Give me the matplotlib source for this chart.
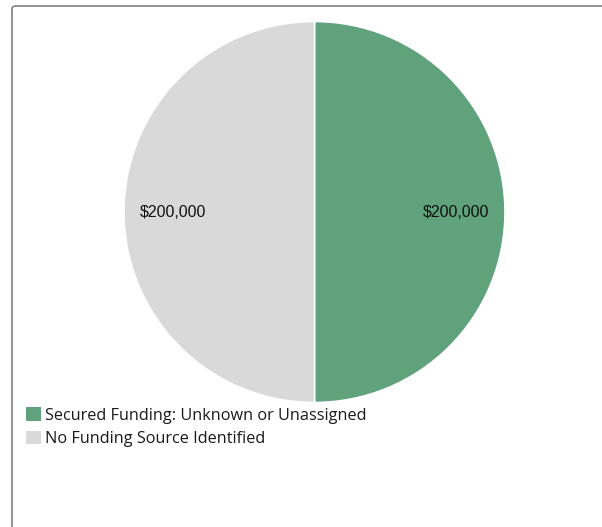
import numpy as np
import matplotlib.pyplot as plt
from matplotlib.patches import FancyBboxPatch

# funding breakdown
labels = ["Secured Funding: Unknown or Unassigned", "No Funding Source Identified"]
amounts = [200000, 200000]
colors = ["#5fa27b", "#d9d9d9"]

W, H = 602, 527
fig = plt.figure(figsize=(W / 100, H / 100), dpi=100)

# outer card border (only top and left edges show inside the image)
border = FancyBboxPatch((12 / W, 1 - 620 / H), 700 / W, 614 / H,
                        boxstyle="round,pad=0,rounding_size=0.006",
                        transform=fig.transFigure, facecolor="none",
                        edgecolor="#8a8a8a", linewidth=1.3)
fig.patches.append(border)

cx, cy, r = 314.5, 212, 190.5
ax = fig.add_axes([(cx - r) / W, 1 - (cy + r) / H, 2 * r / W, 2 * r / H])
wedges, _ = ax.pie(amounts, colors=colors, startangle=90, counterclock=False,
                   wedgeprops=dict(edgecolor="white", linewidth=1.2))
ax.set_xlim(-1, 1)
ax.set_ylim(-1, 1)
ax.set_aspect("equal")
ax.axis("off")

for w, v in zip(wedges, amounts):
    ang = np.deg2rad((w.theta1 + w.theta2) / 2)
    ax.text(0.745 * np.cos(ang), 0.745 * np.sin(ang) - 0.005, f"${v:,.0f}",
            ha="center", va="center", fontsize=11.5, family="Liberation Sans",
            color="#111111")

leg = fig.legend(wedges, labels, loc="upper left",
                 bbox_to_anchor=(26 / W, 1 - 407.5 / H), frameon=False,
                 prop={"family": "Open Sans", "size": 11.7},
                 handlelength=0.92, handleheight=0.86, handletextpad=0.25,
                 labelspacing=0.45, borderpad=0, borderaxespad=0)
for h in leg.legend_handles:
    h.set_edgecolor("none")
for t in leg.get_texts():
    t.set_color("#1a1a1a")

fig.savefig("out.png", dpi=100)
